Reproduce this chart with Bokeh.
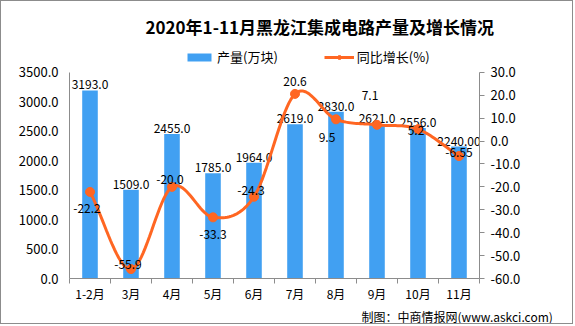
from bokeh.plotting import figure
from bokeh.models import (Range1d, LinearAxis, FixedTicker, ColumnDataSource, Legend, LegendItem,
                          Title, NumeralTickFormatter)
from bokeh.core.properties import value
from bokeh.embed import file_html
from bokeh.resources import INLINE

# ---------------- data ----------------
categories = ["1-2月", "3月", "4月", "5月", "6月", "7月", "8月", "9月", "10月", "11月"]
production = [3193.0, 1509.0, 2455.0, 1785.0, 1964.0, 2619.0, 2830.0, 2621.0, 2556.0, 2240.0]
growth = [-22.2, -55.9, -20.0, -33.3, -24.3, 20.6, 9.5, 7.1, 5.2, -6.55]
left_ticks = [0, 500, 1000, 1500, 2000, 2500, 3000, 3500]
right_ticks = [-60, -50, -40, -30, -20, -10, 0, 10, 20, 30]
title_text = "2020年1-11月黑龙江集成电路产量及增长情况"
series_names = ["产量(万块)", "同比增长(%)"]
source_text = "制图：中商情报网(www.askci.com)"

# label styling (screen offsets, px; +y = down)
growth_dx = [-3, -3, -2, 0, -3, 0, -9, -7, -2, 0]
growth_dy = [17, -5, -7, 17, -6, -12, 18, -29, 1, -4]

FONT = "Noto Sans CJK SC"
BLUE = "#41a0f2"
ORANGE = "#ff6622"
AXIS = "#8c8c8c"

n = len(categories)
xs = list(range(n))

# axis extents and the extra head-room (above the axes) that holds the legend
L_MIN, L_MAX = left_ticks[0], left_ticks[-1]
R_MIN, R_MAX = right_ticks[0], right_ticks[-1]
AXIS_PX, FRAME_PX = 207, 238
l_top = L_MIN + (L_MAX - L_MIN) * FRAME_PX / AXIS_PX
r_top = R_MIN + (R_MAX - R_MIN) * FRAME_PX / AXIS_PX

p = figure(width=573, height=324, output_backend="svg", toolbar_location=None,
           x_range=Range1d(-0.5, n - 0.5), y_range=Range1d(L_MIN, l_top),
           min_border_left=68, min_border_right=95, min_border_top=40, min_border_bottom=46)
p.styles = {"border": "1px solid #8c8c8c"}
p.outline_line_color = None
p.grid.visible = False
p.background_fill_color = "white"
p.border_fill_color = "white"
p.extra_y_ranges = {"pct": Range1d(R_MIN, r_top)}

# title
p.title = Title(text=title_text, align="left", offset=76, standoff=6,
                text_font=FONT, text_font_size="17px", text_font_style="bold", text_color="black")

# x axis: labels at centers, ticks at boundaries
xa = p.xaxis[0]
xa.ticker = FixedTicker(ticks=xs, minor_ticks=[i - 0.5 for i in range(n + 1)])
xa.major_label_overrides = {i: c for i, c in enumerate(categories)}
xa.major_tick_line_color = None
xa.major_tick_in = 0
xa.major_tick_out = 0
xa.minor_tick_line_color = AXIS
xa.minor_tick_in = 0
xa.minor_tick_out = 5
xa.axis_line_color = AXIS
xa.major_label_standoff = 1
xa.major_label_text_font = FONT
xa.major_label_text_font_size = "12px"
xa.major_label_text_color = "black"

ya = p.yaxis[0]
ya.ticker = FixedTicker(ticks=left_ticks)
ya.bounds = (L_MIN, L_MAX)
ya.formatter = NumeralTickFormatter(format="0.0")
ya.major_tick_line_color = None
ya.minor_tick_line_color = None
ya.major_tick_out = 0
ya.major_tick_in = 0
ya.axis_line_color = AXIS
ya.major_label_standoff = 11
ya.major_label_text_font = FONT
ya.major_label_text_font_size = "13px"
ya.major_label_text_color = "black"

ra = LinearAxis(y_range_name="pct", ticker=FixedTicker(ticks=right_ticks), bounds=(R_MIN, R_MAX),
                formatter=NumeralTickFormatter(format="0.0"))
ra.major_tick_line_color = AXIS
ra.major_tick_in = 0
ra.major_tick_out = 5
ra.minor_tick_line_color = None
ra.axis_line_color = AXIS
ra.major_label_standoff = 6
ra.major_label_text_font = FONT
ra.major_label_text_font_size = "13px"
ra.major_label_text_color = "black"
p.add_layout(ra, "right")

# bars
bar_labels = [f"{v:.1f}" for v in production]
bar_labels[-1] = f"{production[-1]:.2f}"
bsrc = ColumnDataSource(dict(x=xs, top=production, label=bar_labels))
bars = p.vbar(x="x", top="top", width=0.38, source=bsrc, fill_color=BLUE, line_color=None)
p.text(x="x", y="top", text="label", source=bsrc, text_align="center", text_baseline="bottom",
       y_offset=-1, text_font=value(FONT), text_font_size="12px", text_color="black")

# smooth growth line (Excel-style smoothing between the data points)
sx, sy = [], []
steps = 20
for i in range(n - 1):
    p0 = growth[i - 1] if i > 0 else growth[i]
    p1 = growth[i]
    p2 = growth[i + 1]
    p3 = growth[i + 2] if i + 2 < n else growth[i + 1]
    m1 = (p2 - p0) / (2 if i > 0 else 1)
    m2 = (p3 - p1) / (2 if i + 2 < n else 1)
    for k in range(steps + (1 if i == n - 2 else 0)):
        t = k / steps
        h00 = 2 * t**3 - 3 * t**2 + 1
        h10 = t**3 - 2 * t**2 + t
        h01 = -2 * t**3 + 3 * t**2
        h11 = t**3 - t**2
        sx.append(xs[i] + t)
        sy.append(h00 * p1 + h10 * m1 + h01 * p2 + h11 * m2)

line = p.line(sx, sy, line_color=ORANGE, line_width=3, y_range_name="pct")
gsrc = ColumnDataSource(dict(x=xs, y=growth, label=[str(v) for v in growth], dx=growth_dx, dy=growth_dy))
pts = p.scatter(x="x", y="y", source=gsrc, size=9, fill_color=ORANGE, line_color=ORANGE,
                y_range_name="pct")
p.text(x="x", y="y", text="label", source=gsrc, x_offset="dx", y_offset="dy",
       text_align="center", text_baseline="middle", y_range_name="pct",
       text_font=value(FONT), text_font_size="12px", text_color="black")

# legend (in the head-room above the axes)
legend = Legend(items=[LegendItem(label=series_names[0], renderers=[bars]),
                       LegendItem(label=series_names[1], renderers=[line, pts])],
                orientation="horizontal", location=(115, 212),
                padding=0, margin=0, spacing=46, label_standoff=3,
                glyph_width=30, glyph_height=10, label_height=10,
                border_line_color=None, background_fill_alpha=0,
                label_text_font=FONT, label_text_font_size="13px", label_text_color="black")
p.add_layout(legend, "center")

# source note
p.add_layout(Title(text=source_text, align="left", offset=292, standoff=2,
                   text_font=FONT, text_font_size="12px", text_font_style="normal",
                   text_color="black"), "below")

open("out.html", "w").write(file_html(p, INLINE))
